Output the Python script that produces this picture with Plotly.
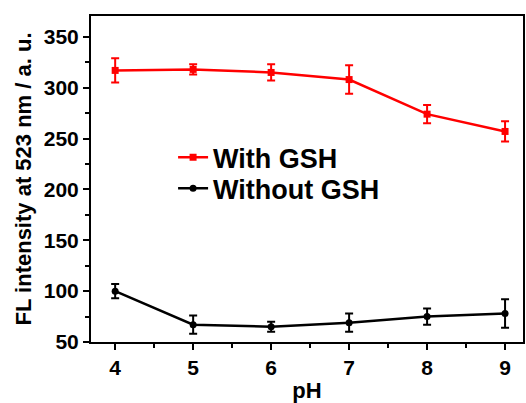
import plotly.graph_objects as go

# pH values and fluorescence intensity (a. u.) at 523 nm
ph = [4, 5, 6, 7, 8, 9]
with_gsh = [317, 318, 315, 308, 274, 257]
with_gsh_err = [12, 5, 8, 14, 9, 10]
without_gsh = [100, 67, 65, 69, 75, 78]
without_gsh_err = [7, 9, 5, 9, 8, 14]

FONT = "Liberation Sans, Arial, sans-serif"

fig = go.Figure()
fig.add_trace(go.Scatter(
    x=ph, y=with_gsh, name="With GSH", mode="lines+markers",
    line=dict(color="#ff0000", width=2.5),
    marker=dict(symbol="square", size=7, color="#ff0000"),
    error_y=dict(type="data", array=with_gsh_err, color="#ff0000",
                 thickness=2, width=4),
    legend="legend",
))
fig.add_trace(go.Scatter(
    x=ph, y=without_gsh, name="Without GSH", mode="lines+markers",
    line=dict(color="#000000", width=2.5),
    marker=dict(symbol="circle", size=7, color="#000000"),
    error_y=dict(type="data", array=without_gsh_err, color="#000000",
                 thickness=2, width=4),
    legend="legend2",
))

axis_common = dict(
    showline=True, linecolor="black", linewidth=2, mirror=True,
    showgrid=False, zeroline=False,
    ticks="outside", ticklen=6, tickwidth=2, tickcolor="black",
    tickfont=dict(family=FONT, size=21, color="black", weight="bold"),
)

fig.update_xaxes(
    range=[3.69, 9.23], tickvals=ph,
    minor=dict(ticks="outside", ticklen=4, tickwidth=2, tickcolor="black", dtick=0.5, tick0=4.5),
    title=dict(text="pH", font=dict(family=FONT, size=22, color="black", weight="bold"), standoff=4),
    **axis_common,
)
fig.update_yaxes(
    range=[50, 370.5], tickvals=[50, 100, 150, 200, 250, 300, 350],
    minor=dict(ticks="outside", ticklen=4, tickwidth=2, tickcolor="black", dtick=25, tick0=75),
    title=dict(text="FL intensity at 523 nm / a. u.",
               font=dict(family=FONT, size=22, color="black", weight="bold"), standoff=6),
    **axis_common,
)

legend_style = dict(
    xanchor="left", yanchor="middle",
    bgcolor="rgba(0,0,0,0)", borderwidth=0,
    font=dict(family=FONT, size=27, color="black", weight="bold"),
)

fig.update_layout(
    width=526, height=403,
    margin=dict(l=91, r=1, t=16, b=61),
    paper_bgcolor="white", plot_bgcolor="white",
    showlegend=True,
    legend=dict(x=0.19, y=0.565, **legend_style),
    legend2=dict(x=0.19, y=0.47, **legend_style),
)

fig.write_html("out.html")
